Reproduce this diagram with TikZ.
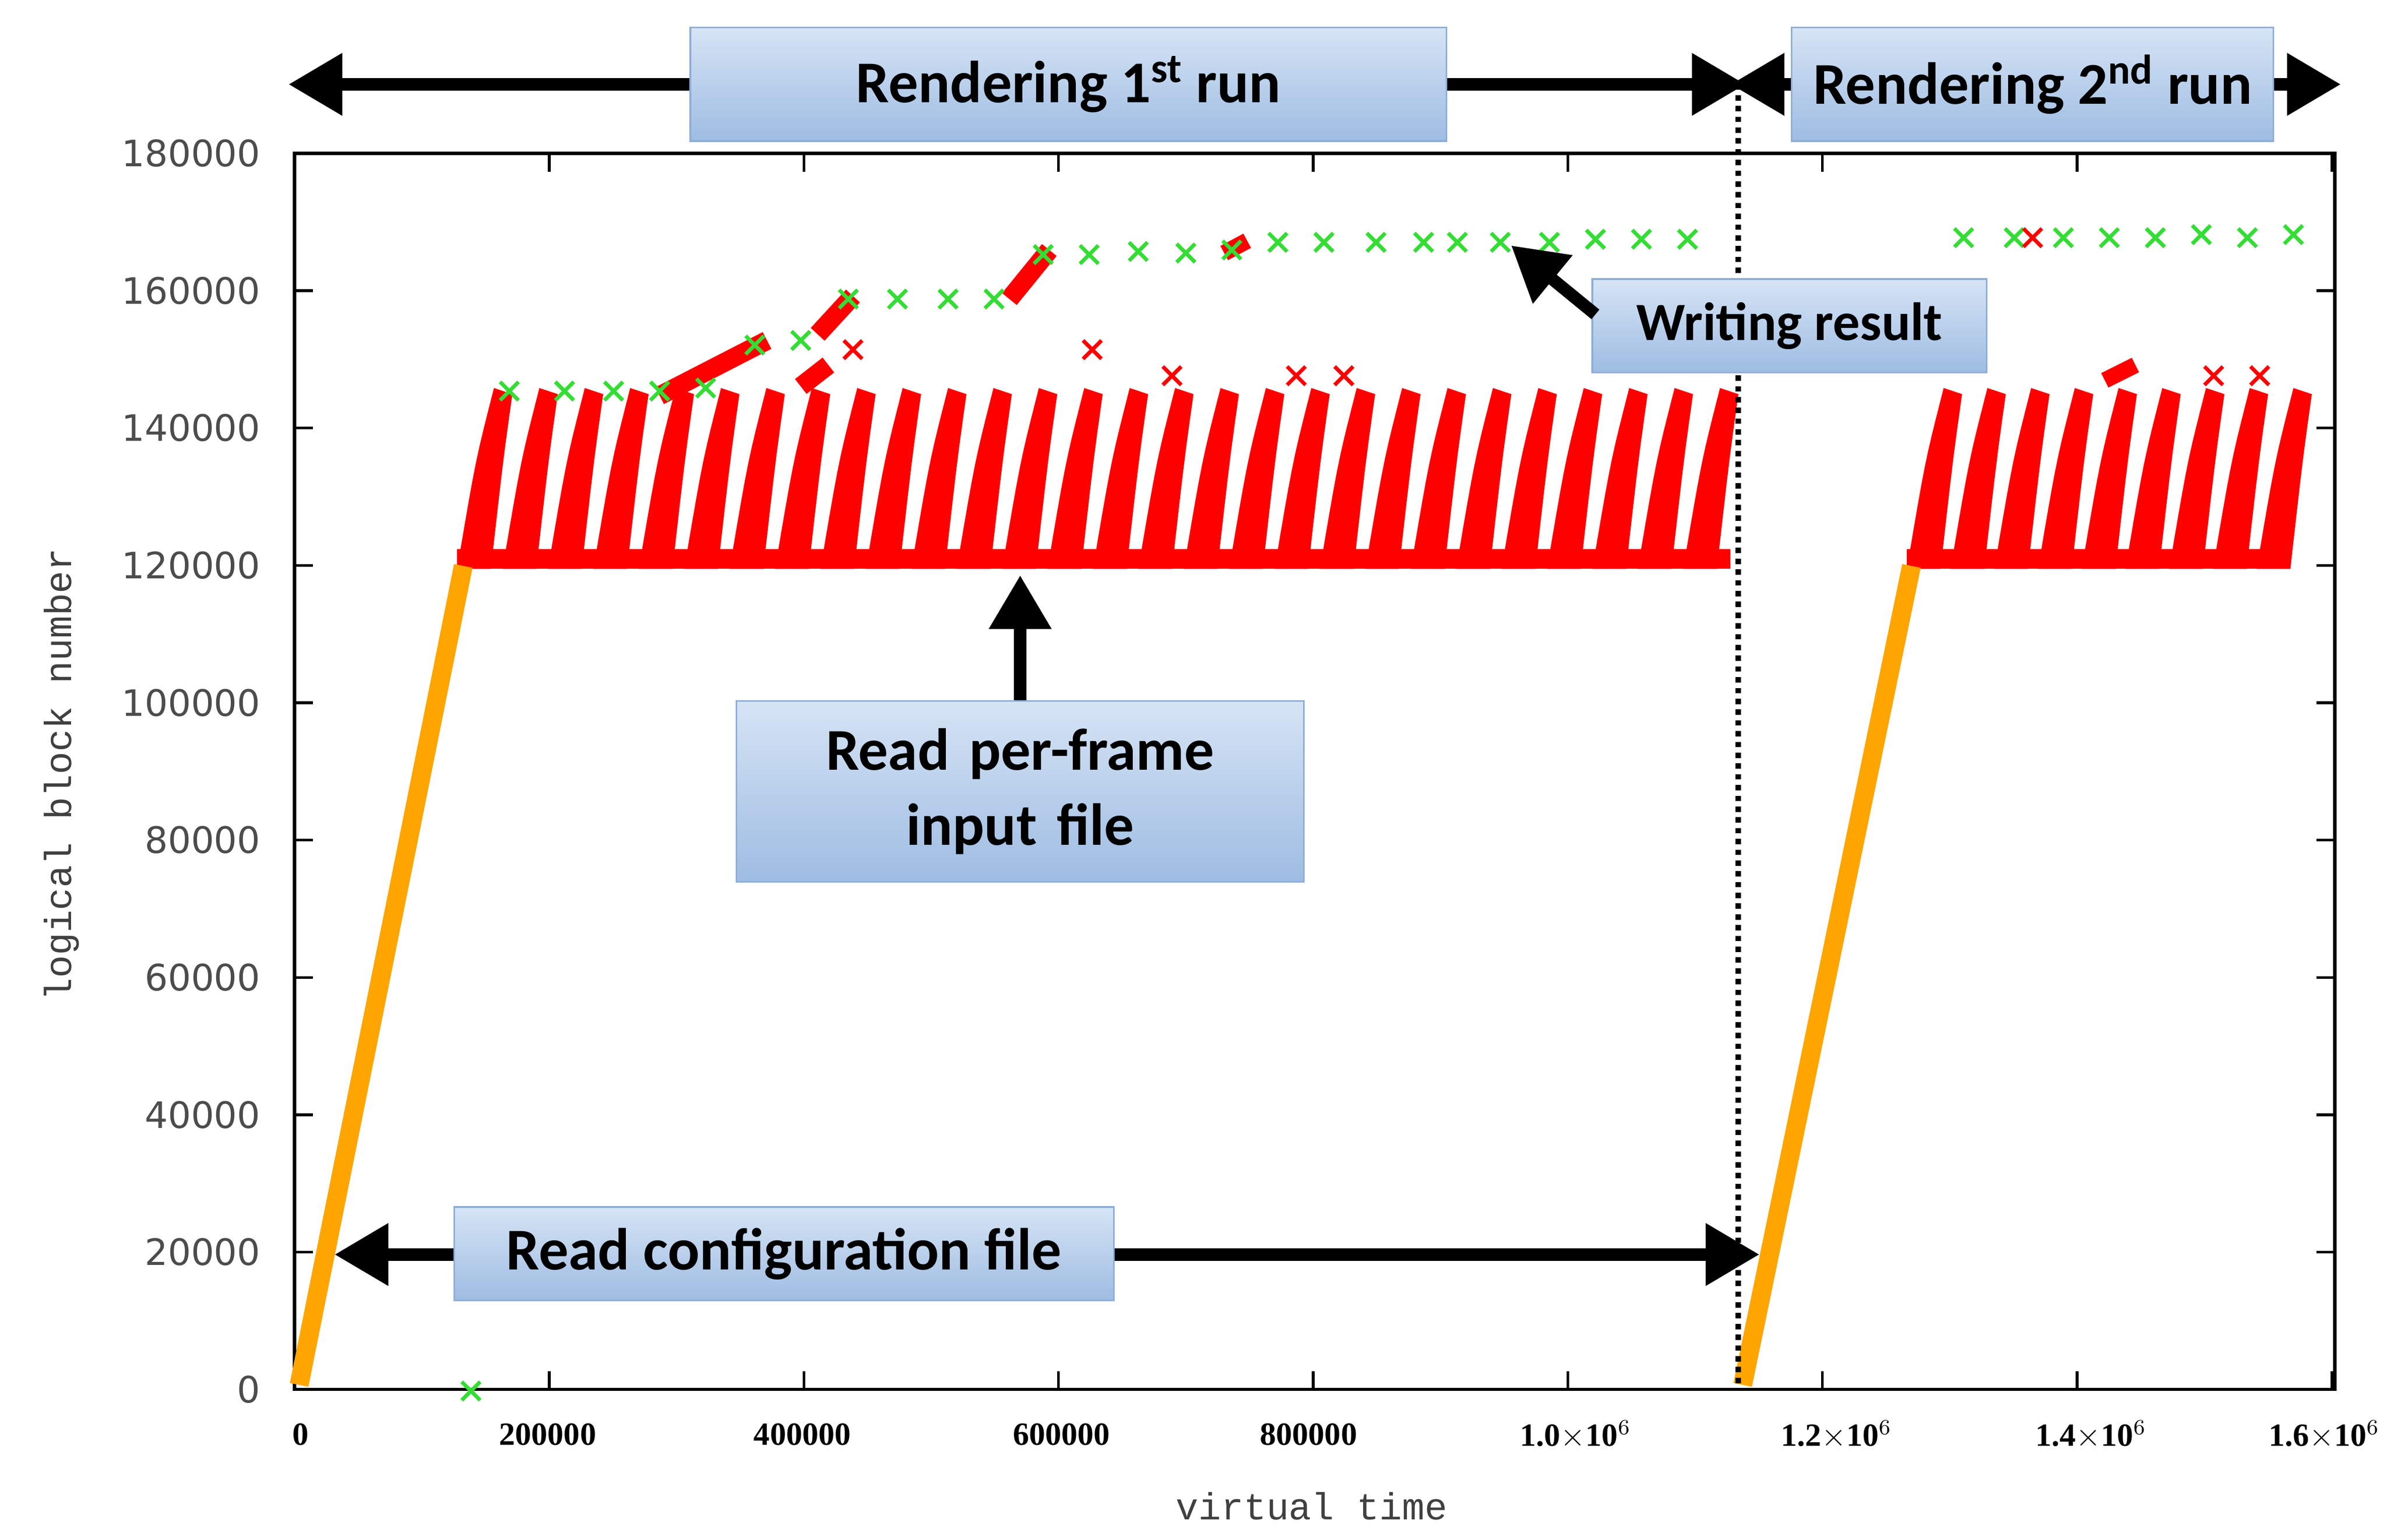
\documentclass[tikz,border=0pt]{standalone}
\usepackage{fontspec}
\setmainfont{Liberation Serif}
\newfontfamily\boxfont{Carlito}
\newfontfamily\tickfont{DejaVu Sans}
\newfontfamily\mfont{Liberation Mono}
\usetikzlibrary{arrows.meta}
\definecolor{bxtop}{HTML}{D6E4F5}
\definecolor{bxbot}{HTML}{9EBCE2}
\definecolor{bxdraw}{HTML}{8DAED8}
\definecolor{gmark}{HTML}{33DD33}
\definecolor{omark}{HTML}{FFA500}
\begin{document}
\begin{tikzpicture}[x=0.02cm,y=-0.02cm,
  lbl/.style={draw=bxdraw,line width=0.6pt,top color=bxtop,bottom color=bxbot,font=\boxfont\bfseries\fontsize{22}{26}\selectfont,align=center,inner sep=0pt},
  bigarrow/.style={line width=4.6pt,{Triangle[length=20pt,width=22pt]}-{Triangle[length=20pt,width=22pt]}},
  onearrow/.style={line width=4.6pt,-{Triangle[length=20pt,width=22pt]}},
  ytl/.style={anchor=east,font=\tickfont\fontsize{13.5}{15}\selectfont,text=black!70},
  xtl/.style={anchor=north,font=\fontsize{12}{14}\selectfont\bfseries},
  gx/.pic={\draw[gmark,line width=1.4pt] (-6,-6)--(6,6) (-6,6)--(6,-6);},
  rx/.pic={\draw[red,line width=1.4pt] (-6,-6)--(6,6) (-6,6)--(6,-6);}]
\useasboundingbox (0,0) rectangle (1556,1004);
% frame
\draw[line width=1.2pt] (192,100) rectangle (1522,906);
% y ticks
\foreach \v/\lab in {0/0,1/20000,2/40000,3/60000,4/80000,5/100000,6/120000,7/140000,8/160000,9/180000}{
  \pgfmathsetmacro\yy{906-89.56*\v}
  \draw[line width=1pt] (192,\yy)--(204,\yy) (1522,\yy)--(1510,\yy);
  \node[ytl] (yt\v) at (176,\yy) {\lab};}
% x ticks
\foreach \v in {0,...,8}{
  \pgfmathsetmacro\xx{192+166*\v}
  \draw[line width=1pt] (\xx,906)--(\xx,894) (\xx,100)--(\xx,112);}
\node[xtl] (x0) at (196,922) {0};
\node[xtl] (x1) at (357,922) {200000};
\node[xtl] (x2) at (523,922) {400000};
\node[xtl] (x3) at (692,922) {600000};
\node[xtl] (x4) at (853,922) {800000};
\node[xtl] (x5) at (1027,920) {1.0$\times$10$^6$};
\node[xtl] (x6) at (1197,920) {1.2$\times$10$^6$};
\node[xtl] (x7) at (1363,920) {1.4$\times$10$^6$};
\node[xtl] (x8) at (1515,920) {1.6$\times$10$^6$};
\node[font=\mfont\fontsize{14}{16}\selectfont,text=black!75] (xlab) at (855,982) {virtual time};
\node[font=\mfont\fontsize{14}{16}\selectfont,text=black!75,rotate=90] (ylab) at (40,505) {logical block number};
% red stripes run 1
\fill[red] (298,358) rectangle (1128,371);
\foreach \i in {0,...,27}{
  \pgfmathsetmacro\xa{298+29.6*\i}
  \fill[red] (\xa,371)--(\xa+22,371) .. controls (\xa+30,300) .. (\xa+36,257)--(\xa+24,253) .. controls (\xa+12,300) .. cycle;}
\fill[red] (1243,358) rectangle (1485,371);
\foreach \i in {0,...,8}{
  \pgfmathsetmacro\xa{1243+28.5*\i}
  \fill[red] (\xa,371)--(\xa+22,371) .. controls (\xa+30,300) .. (\xa+36,257)--(\xa+24,253) .. controls (\xa+12,300) .. cycle;}
% red diagonal segments
\draw[red,line width=7pt] (430,258)--(500,222);
\draw[red,line width=7pt] (522,252)--(540,238);
\draw[red,line width=7pt] (533,218)--(556,193);
\draw[red,line width=7pt] (658,195)--(684,163);
\draw[red,line width=6pt] (798,165)--(813,157);
\draw[red,line width=6pt] (1372,248)--(1392,238);
\pic at (712,228) {rx};
\pic at (556,228) {rx};
\pic at (845,245) {rx};\pic at (876,245) {rx};\pic at (764,245) {rx};
\pic at (1443,245) {rx};\pic at (1473,245) {rx};
% orange ramps
\draw[omark,line width=7pt] (195,903)--(302,369);
\draw[omark,line width=7pt] (1136,903)--(1246,369);
\pic[omark] at (307,907) {gx};
% green marks
\foreach \p in {(332,255),(368,255),(400,255),(430,255),(460,253),(492,225),(522,222),(553,195),(585,195),(618,195),(648,195),(680,166),(710,166),(742,164),(773,165),(803,163),(833,158),(863,158),(897,158),(928,158),(950,158),(978,158),(1010,158),(1040,156),(1070,156),(1100,156),(1280,155),(1313,155),(1345,155),(1375,155),(1405,155),(1435,153),(1465,155),(1495,153)}
  \pic at \p {gx};
\pic at (1325,155) {rx};
% dotted line
\draw[line width=2pt,dotted] (1133,55)--(1133,906);
% top arrows & boxes
\coordinate (a1l) at (188,55); \coordinate (a1r) at (1138,55);
\coordinate (a2l) at (1128,55); \coordinate (a2r) at (1526,55);
\draw[bigarrow] (a1l)--(a1r);
\draw[bigarrow] (a2l)--(a2r);
\node[lbl,minimum width=493*0.02cm,minimum height=74*0.02cm] (r1) at (696.5,55) {Rendering 1\textsuperscript{st} run};
\node[lbl,minimum width=314*0.02cm,minimum height=74*0.02cm] (r2) at (1325,55) {Rendering 2\textsuperscript{nd} run};
% writing result
\coordinate (wt) at (985,160);
\node[lbl,minimum width=257*0.02cm,minimum height=61*0.02cm,font=\boxfont\bfseries\fontsize{20}{24}\selectfont] (wr) at (1166.5,212.5) {Writing result};
\draw[onearrow] (1040,205)--(wt);
% read per-frame
\coordinate (pt) at (665,375);
\node[lbl,minimum width=370*0.02cm,minimum height=118*0.02cm,text width=360*0.02cm] (pf) at (665,516) {Read per-frame\\[2pt]input file};
\draw[onearrow] (pf.north)--(pt);
% read configuration
\coordinate (cl) at (218,818); \coordinate (cr) at (1147,818);
\draw[bigarrow] (cl)--(cr);
\node[lbl,minimum width=430*0.02cm,minimum height=61*0.02cm] (cf) at (511,817.5) {Read configuration file};
\end{tikzpicture}
\end{document}
